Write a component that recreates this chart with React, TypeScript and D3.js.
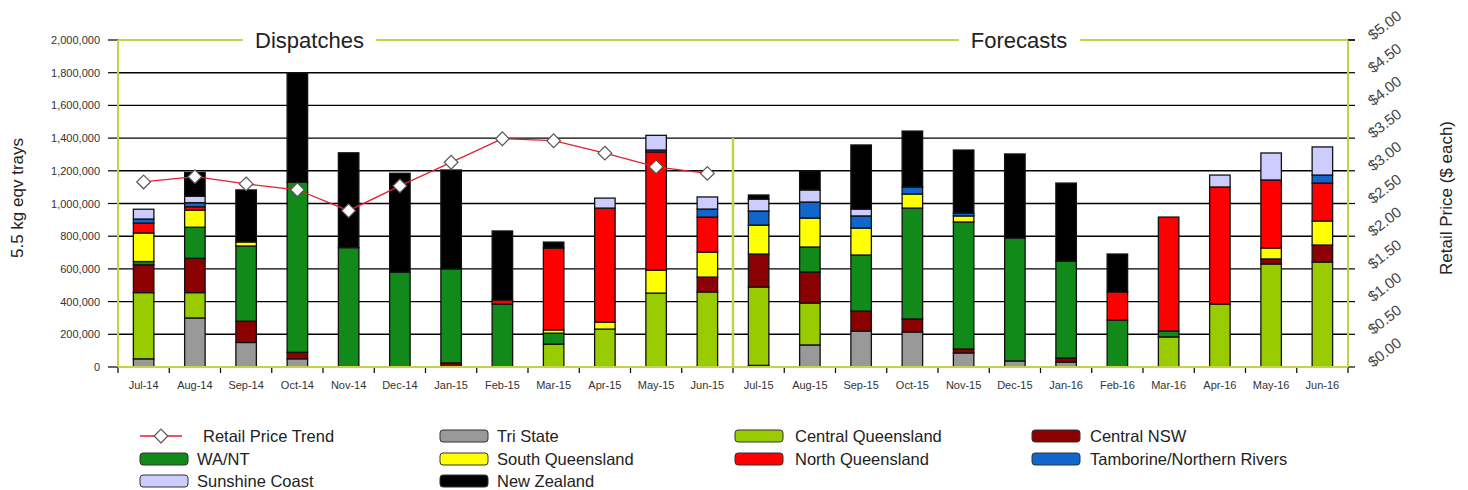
import React, { useRef, useEffect } from "react";
import * as d3 from "d3";

const months = [
  "Jul-14", "Aug-14", "Sep-14", "Oct-14", "Nov-14", "Dec-14", "Jan-15", "Feb-15",
  "Mar-15", "Apr-15", "May-15", "Jun-15", "Jul-15", "Aug-15", "Sep-15", "Oct-15",
  "Nov-15", "Dec-15", "Jan-16", "Feb-16", "Mar-16", "Apr-16", "May-16", "Jun-16",
];

// values in thousands of trays
const triState = [50, 300, 150, 50, 0, 0, 0, 0, 0, 0, 0, 0, 10, 135, 220, 214, 86, 37, 30, 0, 0, 0, 0, 0];
const centralQld = [405, 155, 0, 0, 0, 0, 0, 0, 140, 232, 452, 459, 479, 256, 0, 0, 0, 0, 0, 0, 184, 385, 630, 642];
const centralNsw = [170, 210, 130, 40, 0, 0, 25, 0, 0, 0, 0, 91, 202, 190, 122, 80, 24, 0, 25, 0, 0, 0, 31, 104];
const waNt = [20, 190, 460, 1040, 730, 580, 575, 385, 67, 0, 0, 0, 0, 153, 343, 678, 777, 752, 593, 287, 36, 0, 0, 0];
const southQld = [175, 105, 25, 0, 0, 0, 0, 0, 20, 43, 141, 153, 177, 177, 165, 86, 37, 0, 0, 0, 0, 0, 67, 147];
const northQld = [60, 20, 0, 0, 0, 0, 0, 25, 500, 697, 722, 214, 0, 0, 0, 0, 0, 0, 0, 172, 697, 716, 416, 232];
const tamborine = [25, 25, 0, 0, 0, 0, 0, 0, 0, 0, 12, 49, 86, 98, 74, 43, 18, 0, 0, 0, 0, 0, 0, 49];
const sunshine = [60, 40, 0, 0, 0, 0, 0, 0, 0, 61, 90, 74, 73, 74, 42, 0, 0, 0, 0, 0, 0, 73, 165, 172];
const newZealand = [0, 145, 318, 670, 580, 605, 605, 422, 37, 0, 0, 0, 25, 116, 392, 342, 385, 514, 477, 232, 0, 0, 0, 0];

const price = [2.83, 2.91, 2.8, 2.71, 2.39, 2.77, 3.13, 3.49, 3.46, 3.27, 3.06, 2.96];

const seriesNames = [
  "Tri State", "Central Queensland", "Central NSW", "WA/NT", "South Queensland",
  "North Queensland", "Tamborine/Northern Rivers", "Sunshine Coast", "New Zealand",
];
const seriesValues = [triState, centralQld, centralNsw, waNt, southQld, northQld, tamborine, sunshine, newZealand];
const seriesColors = ["#999999", "#99cc00", "#8b0000", "#118a1a", "#ffff00", "#ff0000", "#1166cc", "#ccccff", "#000000"];

const legendOrder = [
  "Retail Price Trend", "Tri State", "Central Queensland", "Central NSW",
  "WA/NT", "South Queensland", "North Queensland", "Tamborine/Northern Rivers",
  "Sunshine Coast", "New Zealand",
];

const App = () => {
  const svgRef = useRef<SVGSVGElement | null>(null);

  useEffect(() => {
    if (!svgRef.current) return;
    const svg = d3.select(svgRef.current);
    svg.selectAll("*").remove();

    const width = 1468;
    const height = 490;
    const m = { left: 118, right: 1348, top: 40, bottom: 367 };
    const axisCol = "#c4d24a";
    const font = "'Liberation Sans', Arial, sans-serif";

    svg.attr("width", width).attr("height", height);
    svg.append("rect").attr("width", width).attr("height", height).attr("fill", "#fff");

    const x = d3.scaleBand().domain(months).range([m.left, m.right]).paddingInner(0.6).paddingOuter(0.3);
    const y = d3.scaleLinear().domain([0, 2000000]).range([m.bottom, m.top]);
    const y2 = d3.scaleLinear().domain([0, 5]).range([m.bottom, m.top]);
    const step = x.step();

    // gridlines
    const yTicks = d3.range(0, 2000001, 200000);
    svg.append("g")
      .selectAll("line")
      .data(yTicks.filter((t) => t > 0 && t < 2000000))
      .enter()
      .append("line")
      .attr("x1", m.left).attr("x2", m.right)
      .attr("y1", (d) => y(d)).attr("y2", (d) => y(d))
      .attr("stroke", "#000").attr("stroke-width", 1.4);

    // left tick marks + labels
    const yAxisG = svg.append("g");
    yAxisG.selectAll("line")
      .data(yTicks)
      .enter()
      .append("line")
      .attr("x1", 108).attr("x2", m.left)
      .attr("y1", (d) => y(d)).attr("y2", (d) => y(d))
      .attr("stroke", "#000").attr("stroke-width", 1.2);
    yAxisG.selectAll("text")
      .data(yTicks)
      .enter()
      .append("text")
      .attr("x", 100)
      .attr("y", (d) => y(d) + 4)
      .attr("text-anchor", "end")
      .attr("font-family", font)
      .attr("font-size", 11)
      .attr("fill", "#333")
      .text((d) => d3.format(",")(d));

    // right tick marks + rotated labels
    const pTicks = d3.range(0, 5.001, 0.5);
    const rAxisG = svg.append("g");
    rAxisG.selectAll("line")
      .data(pTicks)
      .enter()
      .append("line")
      .attr("x1", m.right).attr("x2", m.right + 7)
      .attr("y1", (d) => y2(d)).attr("y2", (d) => y2(d))
      .attr("stroke", "#000").attr("stroke-width", 1.2);
    rAxisG.selectAll("text")
      .data(pTicks)
      .enter()
      .append("text")
      .attr("transform", (d) => `translate(${m.right + 25},${y2(d) + 1}) rotate(-38)`)
      .attr("font-family", font)
      .attr("font-size", 15)
      .attr("fill", "#444")
      .text((d) => "$" + d.toFixed(2));

    // bottom tick marks
    svg.append("g")
      .selectAll("line")
      .data(d3.range(0, months.length + 1))
      .enter()
      .append("line")
      .attr("x1", (i) => m.left + i * step).attr("x2", (i) => m.left + i * step)
      .attr("y1", m.bottom).attr("y2", m.bottom + 6)
      .attr("stroke", "#000").attr("stroke-width", 1.2);

    // x labels
    svg.append("g")
      .selectAll("text")
      .data(months)
      .enter()
      .append("text")
      .attr("x", (d) => (x(d) as number) + x.bandwidth() / 2)
      .attr("y", 389)
      .attr("text-anchor", "middle")
      .attr("font-family", font)
      .attr("font-size", 11)
      .attr("fill", "#333")
      .text((d) => d);

    // stacked bars
    const table = months.map((mo, i) => {
      const row: any = { month: mo };
      seriesNames.forEach((s, j) => (row[s] = seriesValues[j][i] * 1000));
      return row;
    });
    const stacked = d3.stack<any>().keys(seriesNames)(table);
    const color = d3.scaleOrdinal<string, string>().domain(seriesNames).range(seriesColors);

    svg.append("g")
      .selectAll("g")
      .data(stacked)
      .enter()
      .append("g")
      .attr("fill", (d) => color(d.key))
      .selectAll("rect")
      .data((d) => d.filter((p) => p[1] - p[0] > 0))
      .enter()
      .append("rect")
      .attr("x", (d) => x(d.data.month) as number)
      .attr("width", x.bandwidth())
      .attr("y", (d) => y(d[1]))
      .attr("height", (d) => y(d[0]) - y(d[1]))
      .attr("stroke", "#111")
      .attr("stroke-width", 1.3);

    // axes frame (yellow-green)
    const divX = m.left + 12 * step;
    svg.append("line")
      .attr("x1", divX).attr("x2", divX)
      .attr("y1", y(1400000)).attr("y2", m.bottom)
      .attr("stroke", axisCol).attr("stroke-width", 2.5);
    svg.append("line").attr("x1", m.left).attr("x2", m.left).attr("y1", m.top).attr("y2", m.bottom)
      .attr("stroke", axisCol).attr("stroke-width", 2);
    svg.append("line").attr("x1", m.right).attr("x2", m.right).attr("y1", m.top).attr("y2", m.bottom)
      .attr("stroke", axisCol).attr("stroke-width", 2);
    svg.append("line").attr("x1", m.left).attr("x2", m.right).attr("y1", m.bottom).attr("y2", m.bottom)
      .attr("stroke", axisCol).attr("stroke-width", 2);

    // top border with section titles
    const topSegs: [number, number][] = [[m.left, 243], [376, 959], [1080, m.right]];
    topSegs.forEach(([a, b]) =>
      svg.append("line").attr("x1", a).attr("x2", b).attr("y1", m.top).attr("y2", m.top)
        .attr("stroke", axisCol).attr("stroke-width", 2)
    );
    svg.append("line").attr("x1", m.right).attr("x2", m.right + 7).attr("y1", m.top).attr("y2", m.top)
      .attr("stroke", "#000").attr("stroke-width", 1.2);
    [["Dispatches", 309.5], ["Forecasts", 1019]].forEach(([t, cx]) =>
      svg.append("text")
        .attr("x", cx as number).attr("y", 48)
        .attr("text-anchor", "middle")
        .attr("font-family", font)
        .attr("font-size", 22)
        .attr("fill", "#222")
        .text(t as string)
    );

    // price line
    const pts = price.map((p, i) => [(x(months[i]) as number) + x.bandwidth() / 2, y2(p)] as [number, number]);
    svg.append("path")
      .attr("d", d3.line()(pts))
      .attr("fill", "none")
      .attr("stroke", "#dd2233")
      .attr("stroke-width", 1.3);
    const diamond = d3.symbol().type(d3.symbolDiamond2).size(120);
    svg.append("g")
      .selectAll("path")
      .data(pts)
      .enter()
      .append("path")
      .attr("transform", (d) => `translate(${d[0]},${d[1]})`)
      .attr("d", diamond())
      .attr("fill", "#fff")
      .attr("stroke", "#555")
      .attr("stroke-width", 1.2);

    // axis titles
    svg.append("text")
      .attr("transform", "translate(23,198) rotate(-90)")
      .attr("text-anchor", "middle")
      .attr("font-family", font)
      .attr("font-size", 17)
      .attr("fill", "#222")
      .text("5.5 kg eqv trays");
    svg.append("text")
      .attr("transform", "translate(1452,198) rotate(-90)")
      .attr("text-anchor", "middle")
      .attr("font-family", font)
      .attr("font-size", 17)
      .attr("fill", "#222")
      .text("Retail Price ($ each)");

    // legend
    const colX = [140, 440, 735, 1032];
    const rowY = [436, 459, 481];
    const lg = svg.append("g");
    legendOrder.forEach((name, i) => {
      const cx = colX[i % 4];
      const cy = rowY[Math.floor(i / 4)];
      if (name === "Retail Price Trend") {
        lg.append("line").attr("x1", cx).attr("x2", cx + 42).attr("y1", cy).attr("y2", cy)
          .attr("stroke", "#dd2233").attr("stroke-width", 1.3);
        lg.append("path").attr("transform", `translate(${cx + 21},${cy})`).attr("d", diamond())
          .attr("fill", "#fff").attr("stroke", "#555").attr("stroke-width", 1.2);
      } else {
        lg.append("rect").attr("x", cx).attr("y", cy - 6).attr("width", 48).attr("height", 12)
          .attr("rx", 3).attr("fill", color(name)).attr("stroke", "#333").attr("stroke-width", 1);
      }
      lg.append("text")
        .attr("x", name === "Retail Price Trend" ? 203 : cx + (i % 4 === 3 ? 58 : i % 4 === 2 ? 60 : 57))
        .attr("y", cy + 5.5)
        .attr("font-family", font)
        .attr("font-size", 16.5)
        .attr("fill", "#222")
        .text(name);
    });
  }, []);

  return (
    <div style={{ position: "absolute", left: 0, top: 0 }}>
      <svg ref={svgRef} style={{ display: "block" }}></svg>
    </div>
  );
};

export default App;
